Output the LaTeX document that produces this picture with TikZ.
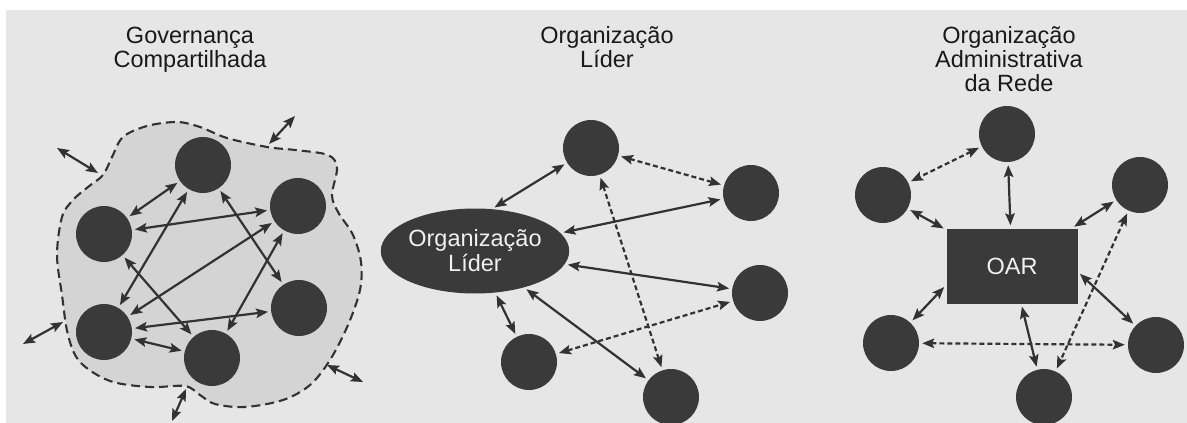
\documentclass[tikz,border=0pt]{standalone}
\usepackage{fontspec}
\setmainfont{Liberation Sans}
\usetikzlibrary{arrows.meta,shapes.geometric}
\definecolor{paper}{RGB}{230,230,230}
\definecolor{cloud}{RGB}{212,212,212}
\definecolor{member}{RGB}{58,58,58}
\definecolor{wire}{RGB}{50,50,50}
\definecolor{ink}{RGB}{25,25,25}

\tikzset{
  tip/.tip={Stealth[length=12pt,width=9.5pt,inset=2.2pt]},
  member/.style={circle, fill=member, minimum size=56pt, inner sep=0pt},
  link/.style={draw=wire, line width=2.2pt, tip-tip, shorten <=3pt, shorten >=3pt},
  weaklink/.style={link, dash pattern=on 5pt off 3pt},
  outlink/.style={draw=wire, line width=2.2pt, tip-tip},
  title/.style={font=\fontsize{23.5}{25}\selectfont, text=ink, anchor=base, inner sep=0pt},
  inner/.style={font=\fontsize{23.5}{25}\selectfont, text=white!94!black, align=center, fill=member, inner sep=0pt},
}

\begin{document}
\begin{tikzpicture}[x=1pt, y=-1pt]
  % page and grey panel
  \useasboundingbox (0,0) rectangle (1187,423);
  \fill[white] (0,0) rectangle (1187,423);
  \fill[paper] (6,10) rectangle (1187,423);

  % ---------- Governança Compartilhada ----------
  \node[title] (t1a) at (190,43) {Governança};
  \node[title] (t1b) at (190,67) {Compartilhada};

  \draw[fill=cloud, draw=wire, line width=2.1pt, dash pattern=on 9pt off 5pt]
    plot[smooth cycle, tension=0.55] coordinates {
      (62,217) (57,255) (62,295) (68,335) (80,362) (110,381) (150,387)
      (185,386) (200,395) (215,404) (245,407) (283,400) (310,385) (330,360)
      (348,325) (360,290) (361,262) (353,235) (338,212) (332,195) (337,168)
      (328,155) (295,150) (267,147) (227,138) (200,127) (177,122) (147,126)
      (123,137) (112,157) (103,175) (88,187) (73,200)};

  \node[member] (ga) at (203,165) {};
  \node[member] (gb) at (104,234) {};
  \node[member] (gc) at (298,206) {};
  \node[member] (gd) at (299,308) {};
  \node[member] (ge) at (104,332) {};
  \node[member] (gf) at (212,358) {};

  \draw[link] (ga) -- (gb);
  \draw[link] (gb) -- (gc);
  \draw[link] (ga) -- (ge);
  \draw[link] (ga) -- (gd);
  \draw[link] (gb) -- (gf);
  \draw[link] (gc) -- (ge);
  \draw[link] (gc) -- (gf);
  \draw[link] (ge) -- (gd);
  \draw[link] (ge) -- (gf);

  % exchanges with the outside of the network
  \coordinate (o1a) at (57,148);  \coordinate (o1b) at (98,173);
  \coordinate (o2a) at (295,116); \coordinate (o2b) at (269,144);
  \coordinate (o3a) at (23,344);  \coordinate (o3b) at (63,322);
  \coordinate (o4a) at (172,421); \coordinate (o4b) at (186,389);
  \coordinate (o5a) at (327,365); \coordinate (o5b) at (363,382);
  \draw[outlink] (o1a) -- (o1b);
  \draw[outlink] (o2a) -- (o2b);
  \draw[outlink] (o3a) -- (o3b);
  \draw[outlink] (o4a) -- (o4b);
  \draw[outlink] (o5a) -- (o5b);

  % ---------- Organização Líder ----------
  \node[title] (t2a) at (607,43) {Organização};
  \node[title] (t2b) at (607,67) {Líder};

  \node[inner, ellipse, minimum width=164pt, minimum height=85pt] (lead) at (475,251) {Organização\\Líder};
  \node[member] (lt)  at (591,148) {};
  \node[member] (lr1) at (751,193) {};
  \node[member] (lr2) at (760,293) {};
  \node[member] (lb1) at (529,362) {};
  \node[member] (lb2) at (671,397) {};

  \draw[link] (lead.68) -- (lt);
  \draw[weaklink] (lt) -- (lr1);
  \draw[link] (lead) -- (lr1);
  \draw[link] (lead) -- (lr2);
  \draw[weaklink] (lt) -- (lb2);
  \draw[link] (lead) -- (lb1);
  \draw[link] (lead) -- (lb2);
  \draw[weaklink] (lb1) -- (lr2);

  % ---------- Organização Administrativa da Rede ----------
  \node[title] (t3a) at (1009,43) {Organização};
  \node[title] (t3b) at (1009,67) {Administrativa};
  \node[title] (t3c) at (1009,91) {da Rede};

  \node[inner, rectangle, minimum width=131pt, minimum height=75pt] (oar) at (1012,266) {OAR};
  \node[member] (at) at (1007,134) {};
  \node[member] (aul) at (883,195) {};
  \node[member] (aur) at (1140,185) {};
  \node[member] (all) at (891,343) {};
  \node[member] (alr) at (1156,345) {};
  \node[member] (ab) at (1044,397) {};

  \draw[weaklink] (at) -- (aul);
  \draw[link] (at) -- (oar);
  \draw[link] (aul) -- (oar);
  \draw[link] (aur) -- (oar);
  \draw[link] (all) -- (oar.196);
  \draw[link] (oar.355) -- (alr);
  \draw[link] (oar) -- (ab);
  \draw[weaklink] (all) -- (alr);
  \draw[weaklink] (aur) -- (ab);
\end{tikzpicture}
\end{document}
